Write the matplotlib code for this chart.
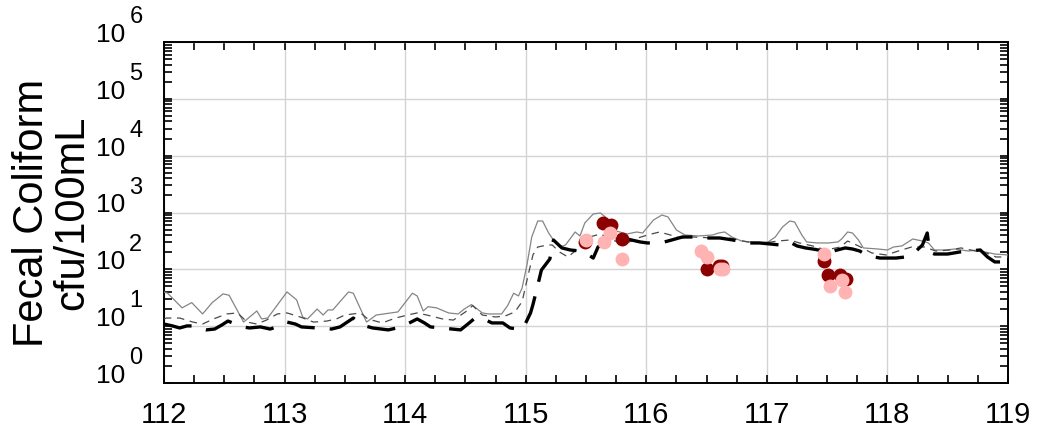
import matplotlib
matplotlib.use("Agg")
import matplotlib.pyplot as plt
from matplotlib.ticker import MultipleLocator, LogLocator, NullFormatter, FixedLocator

plt.rcParams['font.family'] = ['Liberation Sans', 'DejaVu Sans']

# ---- data ----
# thin gray solid line
t_upper = [112.00, 112.03, 112.15, 112.23, 112.32, 112.40, 112.49, 112.54, 112.66, 112.77,
           112.81, 112.86, 113.02, 113.10, 113.15, 113.19, 113.27, 113.32, 113.36, 113.40,
           113.53, 113.57, 113.68, 113.76, 113.94, 114.06, 114.10, 114.15, 114.19, 114.26,
           114.36, 114.44, 114.49, 114.55, 114.64, 114.69, 114.80, 114.85, 114.90, 114.94,
           114.97, 115.01, 115.05, 115.10, 115.14, 115.19, 115.23, 115.28, 115.33, 115.41,
           115.45, 115.49, 115.56, 115.62, 115.66, 115.72, 115.84, 115.92, 115.97, 116.06,
           116.13, 116.18, 116.25, 116.32, 116.43, 116.55, 116.60, 116.65, 116.71, 116.79,
           116.93, 117.01, 117.07, 117.13, 117.19, 117.23, 117.29, 117.33, 117.42, 117.51,
           117.59, 117.62, 117.67, 117.71, 117.76, 117.80, 117.92, 118.00, 118.05, 118.12,
           118.21, 118.29, 118.34, 118.39, 118.48, 118.56, 118.67, 118.75, 118.81, 118.89,
           119.00]
fc_upper = [40, 38, 21, 26, 16.4, 26, 37, 35, 11.8, 18.5,
            13.4, 13.9, 40, 29, 14.5, 13.4, 20, 15.7, 19.3, 19.3,
            40, 38, 11.8, 15.7, 17.8, 38, 34, 18.5, 22, 21,
            17.1, 16.4, 20, 24, 17.1, 16.4, 16.4, 23, 38, 34,
            47, 119, 371, 709, 709, 436, 328, 247, 268, 454,
            386, 654, 942, 980, 834, 492, 419, 454, 436, 738,
            904, 834, 492, 402, 386, 402, 436, 454, 371, 315,
            291, 303, 371, 556, 709, 681, 402, 303, 291, 291,
            303, 342, 454, 436, 328, 238, 228, 219, 247, 258,
            342, 315, 291, 219, 219, 228, 210, 219, 202, 186,
            179]

# thin dark gray dashed line
t_mid = [112.00, 112.02, 112.13, 112.24, 112.32, 112.41, 112.52, 112.61, 112.69, 112.77,
         112.85, 112.94, 113.02, 113.13, 113.24, 113.35, 113.43, 113.50, 113.63, 113.69,
         113.81, 113.92, 114.02, 114.10, 114.18, 114.31, 114.40, 114.50, 114.56, 114.64,
         114.75, 114.83, 114.91, 114.97, 115.02, 115.06, 115.10, 115.18, 115.22, 115.28,
         115.35, 115.43, 115.53, 115.62, 115.67, 115.76, 115.84, 115.93, 116.01, 116.11,
         116.20, 116.28, 116.39, 116.55, 116.69, 116.84, 116.98, 117.09, 117.19, 117.27,
         117.38, 117.49, 117.61, 117.67, 117.76, 117.87, 117.99, 118.09, 118.20, 118.31,
         118.40, 118.52, 118.61, 118.73, 118.82, 118.90, 119.00]
fc_mid = [13.4, 13.9, 13.9, 11.8, 10.9, 13.4, 16.4, 17.1, 11.8, 10.9,
          12.8, 16.4, 17.1, 14.5, 11.8, 12.3, 13.4, 15.7, 17.1, 13.4,
          11.4, 13.9, 15.7, 17.1, 15.7, 13.4, 12.8, 17.8, 23, 15.7,
          14.5, 15.1, 17.8, 27, 79, 179, 247, 268, 268, 202,
          165, 228, 371, 419, 371, 303, 291, 356, 402, 454,
          402, 356, 371, 356, 356, 303, 291, 315, 328, 291,
          258, 219, 247, 315, 258, 194, 179, 210, 247, 247,
          210, 219, 238, 210, 194, 165, 165]

# thick black dashed line
t_low = [112.00, 112.07, 112.13, 112.19, 112.24, 112.27, 112.35, 112.42, 112.48, 112.53,
         112.57, 112.65, 112.71, 112.80, 112.88, 112.96, 113.02, 113.09, 113.14, 113.27,
         113.39, 113.46, 113.52, 113.57, 113.64, 113.73, 113.86, 113.97, 114.10, 114.16,
         114.21, 114.31, 114.39, 114.46, 114.52, 114.58, 114.65, 114.72, 114.81, 114.87,
         114.94, 114.98, 115.04, 115.06, 115.09, 115.13, 115.20, 115.23, 115.30, 115.37,
         115.45, 115.51, 115.56, 115.60, 115.64, 115.68, 115.76, 115.80, 115.84, 115.95,
         116.01, 116.10, 116.15, 116.21, 116.30, 116.39, 116.45, 116.53, 116.61, 116.72,
         116.84, 116.94, 117.03, 117.11, 117.17, 117.19, 117.25, 117.32, 117.38, 117.52,
         117.65, 117.71, 117.77, 117.84, 117.94, 118.00, 118.07, 118.15, 118.23, 118.29,
         118.33, 118.35, 118.39, 118.50, 118.60, 118.68, 118.77, 118.83, 118.89, 119.00]
fc_low = [10.9, 10.1, 9.3, 10.1, 10.1, 9.3, 8.6, 8.9, 10.5, 12.3,
          11.4, 9.7, 9.3, 9.7, 8.9, 10.1, 11.8, 10.9, 9.7, 9.3,
          8.9, 9.7, 11.8, 13.9, 10.5, 9.3, 8.6, 9.7, 13.4, 11.4,
          9.7, 9.3, 8.9, 8.6, 10.9, 13.9, 13.4, 11.4, 11.4, 9.3,
          8.9, 9.3, 17.1, 24, 43, 97, 152, 328, 238, 219,
          210, 186, 158, 247, 291, 303, 268, 303, 342, 303,
          291, 291, 303, 328, 371, 371, 356, 356, 356, 328,
          291, 291, 279, 268, 291, 303, 258, 238, 228, 202,
          238, 228, 210, 172, 158, 158, 158, 165, 202, 268,
          436, 202, 186, 186, 202, 210, 219, 165, 135, 135]

# observations, dark red
obs_dark_t = [115.49, 115.64, 115.71, 115.80, 116.50, 116.60, 116.63, 117.47, 117.51, 117.61, 117.66]
obs_dark_v = [303, 654, 603, 342, 101, 115, 115, 140, 79, 79, 68]
# observations, light pink
obs_light_t = [115.50, 115.70, 115.65, 115.80, 116.45, 116.50, 116.61, 116.64, 117.47, 117.52, 117.62, 117.65]
obs_light_v = [328, 436, 303, 152, 210, 165, 101, 101, 186, 51, 65, 40]

x_ticks = [112, 113, 114, 115, 116, 117, 118, 119]
decades = [0, 1, 2, 3, 4, 5, 6]
ylabel = "Fecal Coliform\ncfu/100mL"

# ---- figure ----
fig = plt.figure(figsize=(10.39, 4.33), dpi=100)
ax = fig.add_axes([164/1039, 50/433, 844/1039, 341/433])

ax.plot(t_upper, fc_upper, color='#858585', lw=0.9, zorder=3)
ax.plot(t_mid, fc_mid, color='#4a4a4a', lw=0.9, linestyle=(0, (6, 4.5)), zorder=3)
ax.plot(t_low, fc_low, color='black', lw=2.4, linestyle=(0, (8.5, 4.5)), zorder=4)
ax.plot(obs_dark_t, obs_dark_v, 'o', color='#8b0000', mec='none', ms=10, zorder=5)
ax.plot(obs_light_t, obs_light_v, 'o', color='#ffb3b3', mec='none', ms=10, zorder=6)

ax.set_yscale('log')
ax.set_xlim(x_ticks[0], x_ticks[-1])
ax.set_ylim(10.0**decades[0], 10.0**decades[-1])

ax.xaxis.set_major_locator(FixedLocator(x_ticks))
ax.xaxis.set_minor_locator(MultipleLocator(0.25))
ax.yaxis.set_major_locator(LogLocator(base=10, numticks=20))
ax.yaxis.set_minor_locator(LogLocator(base=10, subs=range(2, 10), numticks=20))
ax.yaxis.set_minor_formatter(NullFormatter())

ax.grid(True, which='major', color='#d3d3d3', lw=1.0, zorder=0)
ax.set_axisbelow(True)

ax.tick_params(axis='both', which='both', direction='in', top=True, right=True,
               length=6, width=1.2, color='black')
ax.tick_params(axis='x', which='major', labelsize=21, pad=13)
ax.tick_params(axis='y', which='both', labelleft=False)
ax.set_xticklabels([str(v) for v in x_ticks])
for sp in ax.spines.values():
    sp.set_linewidth(1.4)

# y tick labels drawn as 10 with raised exponent
for k in decades:
    ax.annotate("10", xy=(0, 10.0**k), xycoords=('axes fraction', 'data'),
                xytext=(-28, 0), textcoords='offset points', ha='right', va='baseline',
                fontsize=19, annotation_clip=False)
    ax.annotate(str(k), xy=(0, 10.0**k), xycoords=('axes fraction', 'data'),
                xytext=(-25, 13.5), textcoords='offset points', ha='left', va='baseline',
                fontsize=17, annotation_clip=False)

fig.text(52/1039, 1 - 212.5/433, ylabel, rotation=90, ha='center', va='center',
         multialignment='center', fontsize=30, linespacing=1.0)

fig.savefig('out.png', dpi=100)
